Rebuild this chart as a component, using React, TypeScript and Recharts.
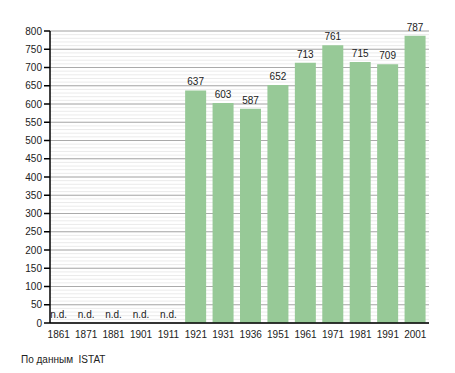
import { BarChart, Bar, XAxis, YAxis, CartesianGrid, LabelList } from 'recharts'

const years = ['1861', '1871', '1881', '1901', '1911', '1921', '1931', '1936', '1951', '1961', '1971', '1981', '1991', '2001']
const population: (number | null)[] = [null, null, null, null, null, 637, 603, 587, 652, 713, 761, 715, 709, 787]

const majorTicks = [0, 50, 100, 150, 200, 250, 300, 350, 400, 450, 500, 550, 600, 650, 700, 750, 800]
const minorTicks = Array.from({ length: 81 }, (_, i) => i * 10)

const data = years.map((year, i) => ({
  year,
  value: population[i],
  missing: population[i] == null
}))

const font = 'Liberation Sans, Arial, sans-serif'

const YearTick = (props: any) => {
  const { x, y, payload, index } = props
  const row = data[index] ?? data.find(d => d.year === payload.value)
  return (
    <g>
      <text x={x} y={y + 7} textAnchor='middle' fontSize={10} fill='#222' fontFamily={font}>
        {payload.value}
      </text>
      {row && row.missing && (
        <text x={x} y={y - 13} textAnchor='middle' fontSize={10} fill='#222' fontFamily={font}>
          n.d.
        </text>
      )}
    </g>
  )
}

const MinorTick = (props: any) => {
  const { x, y } = props
  return <line x1={x - 4} x2={x} y1={y} y2={y} stroke='#000' strokeWidth={1} />
}

// minor gridlines every 10 units
const minorGrid = (p: any) => {
  const s = p && p.yAxis && p.yAxis.scale
  return minorTicks.map(v =>
    typeof s === 'function' ? s(v) : p.offset.top + p.offset.height * (1 - v / 800)
  )
}

export default function App() {
  return (
    <div style={{ position: 'absolute', left: 0, top: 0, width: 455, height: 373, background: '#fff', fontFamily: font }}>
      <BarChart
        width={455}
        height={373}
        data={data}
        margin={{ top: 31, right: 26, bottom: 30, left: 0 }}
        barSize={21}
      >
        <CartesianGrid vertical={false} stroke='#ebebeb' horizontalCoordinatesGenerator={minorGrid} />
        <CartesianGrid vertical={false} stroke='#aaaaaa' />
        <XAxis
          dataKey='year'
          tickLine={false}
          axisLine={{ stroke: '#000', strokeWidth: 1.5 }}
          tick={<YearTick />}
          height={20}
          interval={0}
          padding={{ left: -5, right: 0 }}
        />
        <YAxis
          domain={[0, 800]}
          ticks={majorTicks}
          interval={0}
          width={50}
          tickSize={6}
          tickLine={{ stroke: '#000', strokeWidth: 1.5 }}
          axisLine={{ stroke: '#000', strokeWidth: 1.5 }}
          tick={{ fontSize: 10, fill: '#222', fontFamily: font }}
        />
        <YAxis
          yAxisId='minor'
          domain={[0, 800]}
          ticks={minorTicks}
          interval={0}
          width={0}
          tickLine={false}
          axisLine={false}
          tick={<MinorTick />}
        />
        <Bar dataKey='value' fill='#97c997' isAnimationActive={false}>
          <LabelList dataKey='value' position='top' fill='#222' fontSize={10} fontFamily={font} />
        </Bar>
      </BarChart>
      <div style={{ position: 'absolute', left: 21, top: 354, fontSize: 10, color: '#222' }}>По данным&nbsp; ISTAT</div>
    </div>
  )
}
